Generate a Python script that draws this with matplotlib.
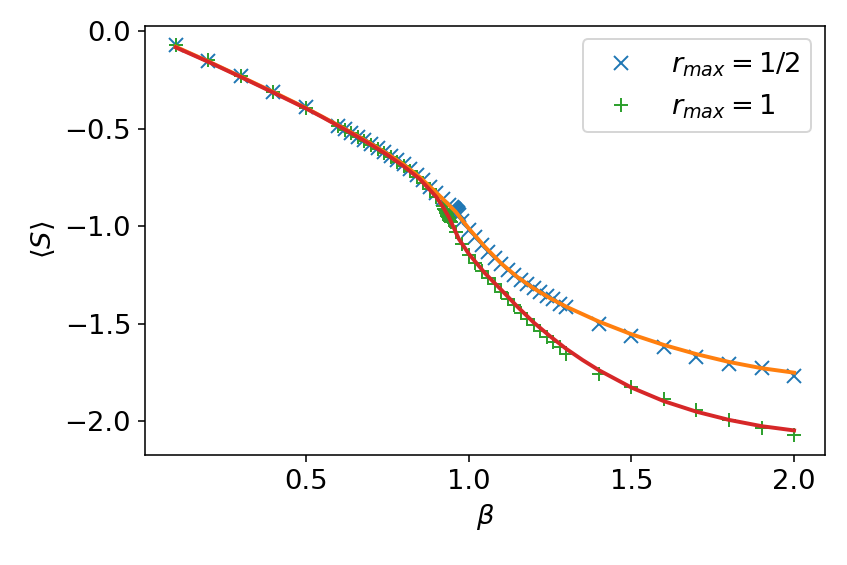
import numpy as np
import matplotlib
matplotlib.use('Agg')
import matplotlib.pyplot as plt
from matplotlib.ticker import MultipleLocator

plt.rcParams.update({'font.size': 14})

# measured points, r_max = 1/2
beta_half = [0.1, 0.2, 0.3, 0.4, 0.5,
             0.60, 0.62, 0.64, 0.66, 0.68, 0.70, 0.72, 0.74, 0.76, 0.78,
             0.80, 0.82, 0.84, 0.86, 0.88, 0.90, 0.92, 0.94,
             0.950, 0.952, 0.954, 0.956, 0.958, 0.960, 0.962, 0.964, 0.966, 0.968, 0.970,
             0.98, 1.00, 1.02, 1.04, 1.06, 1.08, 1.10, 1.12, 1.14, 1.16, 1.18,
             1.20, 1.22, 1.24, 1.26, 1.28, 1.30,
             1.4, 1.5, 1.6, 1.7, 1.8, 1.9, 2.0]
S_half = [-0.073, -0.152, -0.229, -0.310, -0.390,
          -0.485, -0.503, -0.521, -0.540, -0.559, -0.578, -0.598, -0.618, -0.639, -0.660,
          -0.683, -0.708, -0.735, -0.764, -0.796, -0.828, -0.860, -0.893,
          -0.900, -0.905, -0.909, -0.913, -0.917, -0.921, -0.925, -0.929, -0.933, -0.937, -0.941,
          -0.972, -1.018, -1.057, -1.094, -1.130, -1.163, -1.193, -1.222, -1.250, -1.276, -1.298,
          -1.318, -1.337, -1.356, -1.375, -1.398, -1.412,
          -1.503, -1.562, -1.616, -1.669, -1.703, -1.728, -1.766]

# measured points, r_max = 1
beta_one = [0.1, 0.2, 0.3, 0.4, 0.5,
            0.60, 0.62, 0.64, 0.66, 0.68, 0.70, 0.72, 0.74, 0.76, 0.78,
            0.80, 0.82, 0.84, 0.86, 0.88, 0.90, 0.92,
            0.925, 0.927, 0.929, 0.931, 0.933, 0.935, 0.937, 0.939, 0.941, 0.943, 0.945,
            0.94, 0.96, 0.98, 1.00, 1.02, 1.04, 1.06, 1.08, 1.10, 1.12, 1.14, 1.16, 1.18,
            1.20, 1.22, 1.24, 1.26, 1.28, 1.30,
            1.4, 1.5, 1.6, 1.7, 1.8, 1.9, 2.0]
S_one = [-0.072, -0.150, -0.230, -0.310, -0.392,
         -0.487, -0.505, -0.524, -0.543, -0.562, -0.582, -0.602, -0.623, -0.645, -0.668,
         -0.692, -0.718, -0.746, -0.776, -0.810, -0.850, -0.895,
         -0.910, -0.917, -0.924, -0.931, -0.938, -0.945, -0.952, -0.959, -0.966, -0.973, -0.980,
         -0.955, -1.030, -1.090, -1.145, -1.190, -1.230, -1.263, -1.298, -1.335, -1.370, -1.405,
         -1.442, -1.476, -1.508, -1.537, -1.565, -1.592, -1.618, -1.656,
         -1.757, -1.822, -1.885, -1.941, -1.992, -2.033, -2.071]

# fitted curves
fit_beta_half = [0.1, 0.2, 0.3, 0.4, 0.5, 0.55, 0.6, 0.65, 0.7, 0.75, 0.8, 0.85, 0.9, 0.93,
                 0.96, 1.0, 1.05, 1.1, 1.15, 1.2, 1.25, 1.3, 1.4, 1.5, 1.6, 1.7, 1.8, 1.9, 2.0]
fit_S_half = [-0.080, -0.155, -0.233, -0.312, -0.394, -0.438, -0.483, -0.529, -0.577, -0.628,
              -0.683, -0.748, -0.826, -0.875, -0.925, -1.010, -1.105, -1.190, -1.260, -1.318,
              -1.368, -1.412, -1.488, -1.553, -1.608, -1.655, -1.695, -1.727, -1.750]

fit_beta_one = [0.1, 0.2, 0.3, 0.4, 0.5, 0.55, 0.6, 0.65, 0.7, 0.75, 0.8, 0.85, 0.9, 0.92,
                0.94, 0.97, 1.0, 1.05, 1.1, 1.15, 1.2, 1.25, 1.3, 1.35, 1.4, 1.5, 1.6, 1.7,
                1.8, 1.9, 2.0]
fit_S_one = [-0.083, -0.157, -0.235, -0.315, -0.396, -0.440, -0.486, -0.533, -0.582, -0.634,
             -0.692, -0.758, -0.848, -0.898, -0.955, -1.065, -1.140, -1.240, -1.325, -1.412,
             -1.493, -1.563, -1.628, -1.685, -1.737, -1.826, -1.896, -1.950, -1.992, -2.024,
             -2.046]

fig, ax = plt.subplots(figsize=(847/141, 565/141), dpi=141)
fig.subplots_adjust(left=0.171, right=0.974, bottom=0.195, top=0.9545)

ax.plot(beta_half, S_half, 'x', color='C0', ms=7, label=r'$r_{max} = 1/2$')
ax.plot(beta_one, S_one, '+', color='C2', ms=7, label=r'$r_{max} = 1$')
ax.plot(fit_beta_half, fit_S_half, '-', color='C1', lw=2)
ax.plot(fit_beta_one, fit_S_one, '-', color='C3', lw=2)

ax.xaxis.set_major_locator(MultipleLocator(0.5))
ax.yaxis.set_major_locator(MultipleLocator(0.5))
ax.set_xlabel(r'$\beta$')
ax.set_ylabel(r'$\langle S \rangle$')
ax.legend(loc='upper right')

fig.savefig('out.png', dpi=141)
